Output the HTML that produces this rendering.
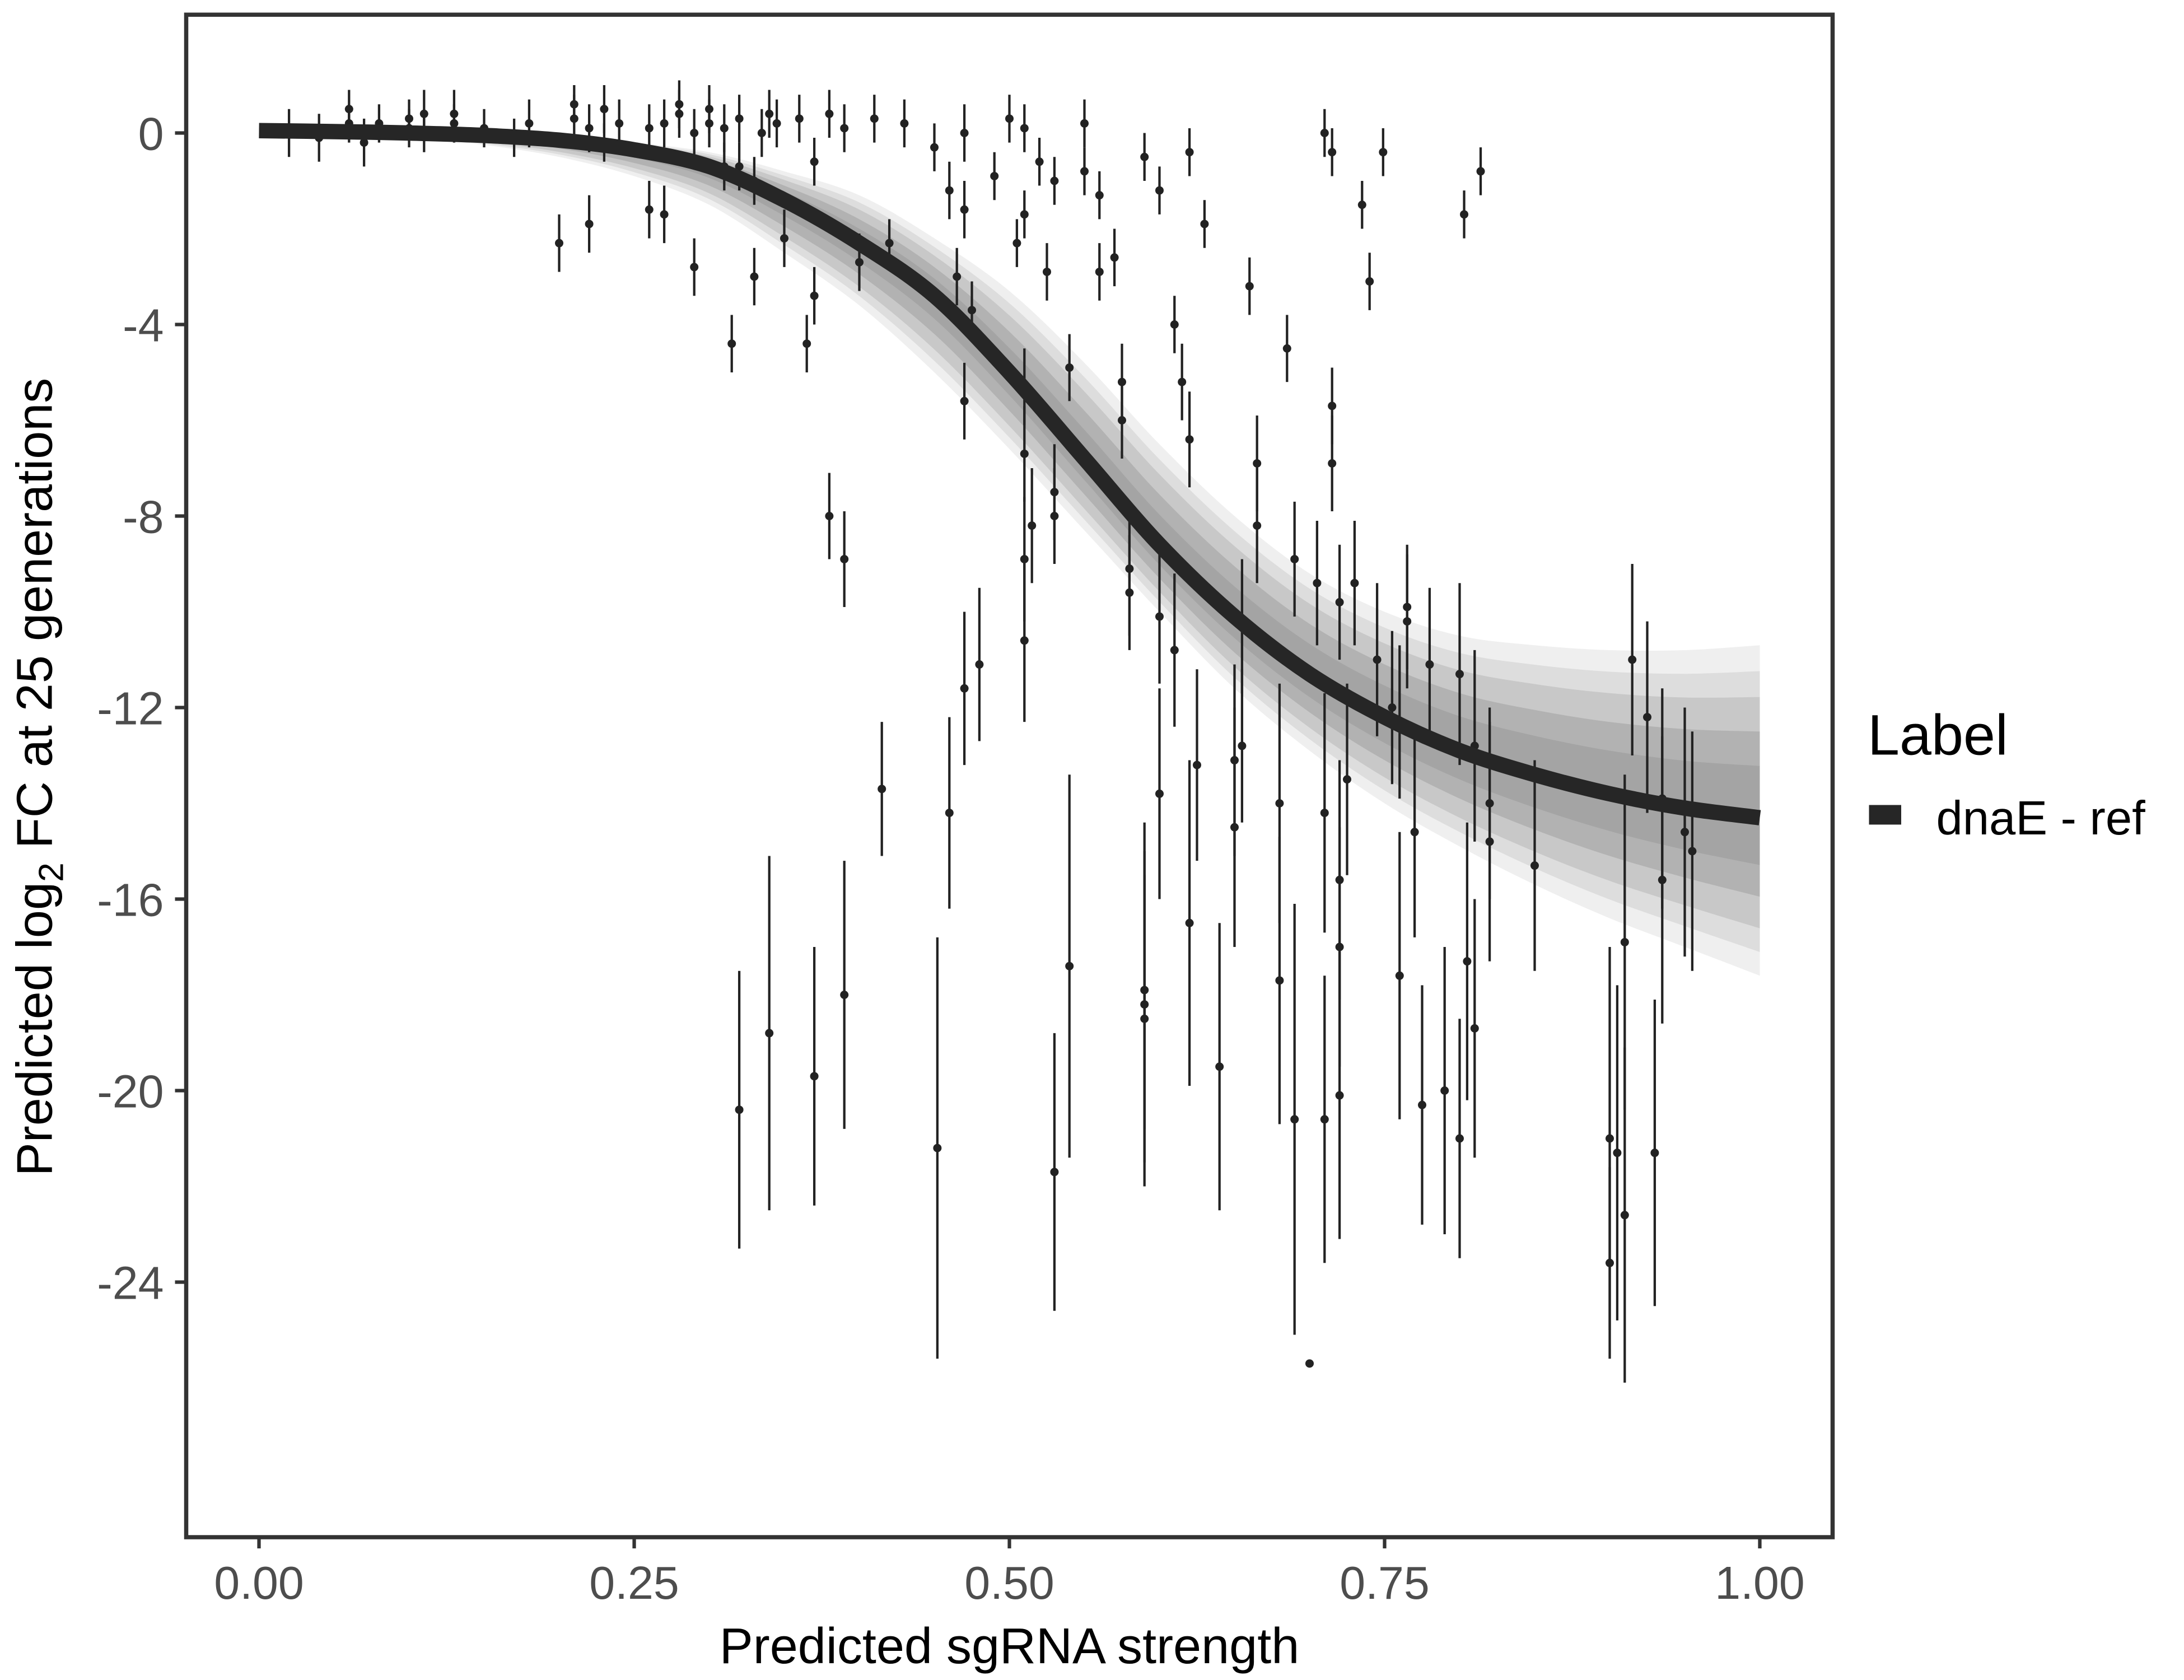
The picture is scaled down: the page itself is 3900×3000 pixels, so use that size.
<!DOCTYPE html>
<html><head><meta charset="utf-8"><style>
html,body{margin:0;padding:0;background:#fff;}
svg{display:block;}
text{font-family:"Liberation Sans",sans-serif;}
</style></head><body>
<svg id="chart" width="3900" height="3000" viewBox="0 0 1560 1200" xmlns="http://www.w3.org/2000/svg">
<rect x="0" y="0" width="1560" height="1200" fill="#fff"/>
<g id="band"></g>
<g id="pts"></g>
<g id="curve"></g>
<rect x="133" y="10.5" width="1176" height="1087.5" fill="none" stroke="#333" stroke-width="3"/>
<g id="xaxis"></g>
<g id="yaxis"></g>
<text x="721" y="1188" font-size="36" text-anchor="middle" fill="#000">Predicted sgRNA strength</text>
<text transform="translate(37,555) rotate(-90)" font-size="36" text-anchor="middle" fill="#000">Predicted  log<tspan font-size="25" dy="8">2</tspan><tspan dy="-8"> FC at 25 generations</tspan></text>
<g>
<text x="1334" y="539" font-size="41" fill="#000">Label</text>
<rect x="1335" y="575" width="23" height="14" fill="#262626"/>
<text x="1383" y="596" font-size="34" fill="#000">dnaE - ref</text>
</g>
</svg>
<script>
const xTicks=[0,0.25,0.5,0.75,1];
const xTickLabels=["0.00","0.25","0.50","0.75","1.00"];
const yTicks=[0,-4,-8,-12,-16,-20,-24];
const yTickLabels=["0","-4","-8","-12","-16","-20","-24"];
const curveX=[0,0.05,0.1,0.15,0.2,0.25,0.3,0.35,0.4,0.45,0.5,0.55,0.6,0.65,0.7,0.75,0.8,0.85,0.9,0.95,1.0];
const curveY=[0.05,0.03,0,-0.05,-0.15,-0.35,-0.7,-1.4,-2.3,-3.4,-5.0,-6.8,-8.6,-10.1,-11.3,-12.2,-12.9,-13.4,-13.8,-14.1,-14.3];
const bandHi=[0.15,0.12,0.08,0.02,-0.05,-0.2,-0.4,-0.8,-1.3,-2.2,-3.3,-4.8,-6.5,-8.0,-9.2,-10.0,-10.5,-10.7,-10.8,-10.8,-10.7];
const bandLo=[0,-0.05,-0.1,-0.25,-0.5,-0.9,-1.5,-2.5,-3.6,-5.0,-6.6,-8.3,-10.0,-11.6,-12.9,-14.0,-14.9,-15.7,-16.4,-17.0,-17.6];
const ptX=[0.02,0.04,0.06,0.06,0.07,0.08,0.1,0.1,0.11,0.11,0.13,0.13,0.15,0.17,0.18,0.2,0.21,0.21,0.22,0.22,0.23,0.23,0.24,
0.26,0.26,0.27,0.27,0.28,0.28,0.29,0.29,0.3,0.3,0.31,0.31,0.315,0.32,0.32,0.33,0.33,0.335,0.34,0.345,0.35,0.37,0.365,0.36,0.37,0.38,0.39,0.40,0.41,0.42,0.43,0.45,
0.32,0.34,0.37,0.38,0.39,0.39,0.415,0.452,0.46,0.47,0.48,0.47,0.465,0.47,0.46,0.475,0.47,0.49,0.50,0.505,0.51,0.51,0.52,0.525,0.53,0.53,0.54,0.51,0.51,0.51,0.515,0.51,0.53,0.53,0.54,0.55,0.55,0.56,0.56,0.57,0.575,0.575,0.58,0.58,0.59,0.6,0.6,0.6,0.59,0.59,0.59,0.61,0.615,0.61,0.62,0.62,0.625,0.62,0.63,0.64,0.65,0.65,0.655,0.655,0.66,0.665,0.665,0.68,0.68,0.685,0.69,0.69,0.7,0.705,0.71,0.71,0.715,0.715,0.72,0.72,0.72,0.72,0.725,0.73,0.71,0.715,0.735,0.74,0.745,0.755,0.76,0.76,0.765,0.765,0.77,0.775,0.78,0.79,0.749,0.803,0.80,0.805,0.81,0.81,0.82,0.82,0.8,0.814,0.85,0.9,0.9,0.905,0.91,0.91,0.915,0.925,0.93,0.935,0.935,0.95,0.955];
const ptY=[0,-0.1,0.5,0.2,-0.2,0.2,0.3,0.1,0,0.4,0.2,0.4,0.1,-0.1,0.2,-2.3,0.3,0.6,-1.9,0.1,0.5,-0.2,0.2,
-1.6,0.1,-1.7,0.2,0.4,0.6,-2.8,0,0.2,0.5,0.1,-0.7,-4.4,-0.7,0.3,-3.0,-1.0,0,0.4,0.2,-2.2,-3.4,-4.4,0.3,-0.6,0.4,0.1,-2.7,0.3,-2.3,0.2,-0.3,
-20.4,-18.8,-19.7,-8.0,-8.9,-18.0,-13.7,-21.2,-14.2,-11.6,-11.1,-5.6,-3.0,0,-1.2,-3.7,-1.6,-0.9,0.3,-2.3,-1.7,0.1,-0.6,-2.9,-1.0,-21.7,-17.4,-10.6,-6.7,-5.3,-8.2,-8.9,-7.5,-8.0,-4.9,0.2,-0.8,-1.3,-2.9,-2.6,-5.2,-6.0,-9.1,-9.6,-0.5,-1.2,-10.1,-13.8,-18.2,-18.5,-17.9,-10.8,-5.2,-4.0,-6.4,-16.5,-13.2,-0.4,-1.9,-19.5,-14.5,-13.1,-12.8,-10.3,-3.2,-6.9,-8.2,-17.7,-14.0,-4.5,-8.9,-20.6,-25.7,-9.4,-14.2,-20.6,-5.7,-6.9,-9.8,-15.6,-17.0,-20.1,-13.5,-9.4,0,-0.4,-1.5,-3.1,-11.0,-12.0,-17.6,-12.3,-9.9,-10.2,-14.6,-20.3,-11.1,-20.0,-0.4,-1.7,-11.3,-17.3,-18.7,-12.8,-14.8,-14.0,-21.0,-0.8,-15.3,-21.0,-23.6,-21.3,-16.9,-22.6,-11.0,-12.2,-21.3,-13.9,-15.6,-14.6,-15.0];
const ptErr=[0.5,0.5,0.4,0.4,0.5,0.4,0.4,0.4,0.4,0.5,0.4,0.5,0.4,0.4,0.5,0.6,0.5,0.4,0.6,0.5,0.5,0.4,0.5,
0.6,0.5,0.6,0.5,0.5,0.5,0.6,0.5,0.5,0.5,0.5,0.5,0.6,0.5,0.5,0.6,0.5,0.5,0.5,0.5,0.6,0.6,0.6,0.5,0.5,0.5,0.5,0.6,0.5,0.5,0.5,0.5,
2.9,3.7,2.7,0.9,1.0,2.8,1.4,4.4,2.0,1.6,1.6,0.8,0.6,0.6,0.6,0.6,0.6,0.5,0.5,0.5,0.5,0.5,0.5,0.6,0.5,2.9,4.0,1.7,1.0,0.8,1.2,1.3,1.0,1.0,0.7,0.5,0.5,0.5,0.6,0.6,0.8,0.8,1.4,1.2,0.5,0.5,1.4,2.2,3.8,3.0,2.9,1.6,0.8,0.6,1.0,3.4,2.0,0.5,0.5,3.0,2.5,2.0,1.6,1.4,0.6,1.0,1.2,3.0,2.5,0.7,1.2,4.5,0,1.3,2.5,3.0,0.8,1.0,1.2,2.5,2.5,3.0,2.0,1.3,0.5,0.5,0.5,0.6,1.6,1.6,3.0,1.6,1.3,1.4,2.2,2.5,1.6,3.0,0.5,0.5,1.9,2.9,2.7,2.0,2.5,2.0,2.5,0.5,2.2,4.0,2.0,3.5,3.5,3.5,2.0,2.0,3.2,2.3,3.0,2.6,2.5];

const NS='http://www.w3.org/2000/svg';
function sx(v){return 185+v*1072;}
function sy(v){return 95-v*34.2;}
function mk(tag,parent,attrs){const e=document.createElementNS(NS,tag);for(const k in attrs)e.setAttribute(k,attrs[k]);parent.appendChild(e);return e;}
// Catmull-Rom smooth path through points
function smooth(P,start){
  let d=start?'M'+P[0][0].toFixed(1)+','+P[0][1].toFixed(1):'L'+P[0][0].toFixed(1)+','+P[0][1].toFixed(1);
  for(let i=0;i<P.length-1;i++){
    const p0=P[Math.max(0,i-1)],p1=P[i],p2=P[i+1],p3=P[Math.min(P.length-1,i+2)];
    const c1=[p1[0]+(p2[0]-p0[0])/6,p1[1]+(p2[1]-p0[1])/6];
    const c2=[p2[0]-(p3[0]-p1[0])/6,p2[1]-(p3[1]-p1[1])/6];
    d+='C'+c1[0].toFixed(1)+','+c1[1].toFixed(1)+' '+c2[0].toFixed(1)+','+c2[1].toFixed(1)+' '+p2[0].toFixed(1)+','+p2[1].toFixed(1);
  }
  return d;
}

const band=document.getElementById('band');
function bandPath(fr){
  let up=[],dn=[];
  for(let i=0;i<curveX.length;i++){
    const h=curveY[i]+(bandHi[i]-curveY[i])*fr, l=curveY[i]+(bandLo[i]-curveY[i])*fr;
    up.push([sx(curveX[i]),sy(h)]);
    dn.unshift([sx(curveX[i]),sy(l)]);
  }
  return smooth(up,true)+smooth(dn,false)+'Z';
}
[[1,'#efefef'],[0.85,'#dddddd'],[0.7,'#c8c8c8'],[0.5,'#b2b2b2'],[0.3,'#a4a4a4']].forEach(function(p){
  const e=mk('path',band,{d:bandPath(p[0]),fill:p[1]});
  
  
});

const pts=document.getElementById('pts');
for(let i=0;i<ptX.length;i++){
  const x=sx(ptX[i]);
  if(ptErr[i]>0){
    const l=mk('line',pts,{x1:x,x2:x,y1:sy(ptY[i]+ptErr[i]),y2:sy(ptY[i]-ptErr[i]),stroke:'#222','stroke-width':1.7});
    
    
  }
  const c=mk('circle',pts,{cx:x,cy:sy(ptY[i]),r:3,fill:'#222'});
  
  
}

const cg=document.getElementById('curve');
const cpts=curveX.map(function(v,i){return [sx(v),sy(curveY[i])];});
const cp=mk('path',cg,{d:smooth(cpts,true),fill:'none',stroke:'#262626','stroke-width':11,'stroke-linejoin':'round'});



const xa=document.getElementById('xaxis');
xTicks.forEach(function(v,i){
  const t=mk('line',xa,{x1:sx(v),x2:sx(v),y1:1098,y2:1106,stroke:'#333','stroke-width':2.5});
  
  
  const tx=mk('text',xa,{x:sx(v),y:1142,'font-size':33,'text-anchor':'middle',fill:'#4d4d4d'});
  tx.textContent=xTickLabels[i];
  
  
});
const ya=document.getElementById('yaxis');
yTicks.forEach(function(v,i){
  const t=mk('line',ya,{x1:125,x2:133,y1:sy(v),y2:sy(v),stroke:'#333','stroke-width':2.5});
  
  
  const tx=mk('text',ya,{x:117,y:sy(v)+12,'font-size':33,'text-anchor':'end',fill:'#4d4d4d'});
  tx.textContent=yTickLabels[i];
  
  
});
</script>
</body></html>
